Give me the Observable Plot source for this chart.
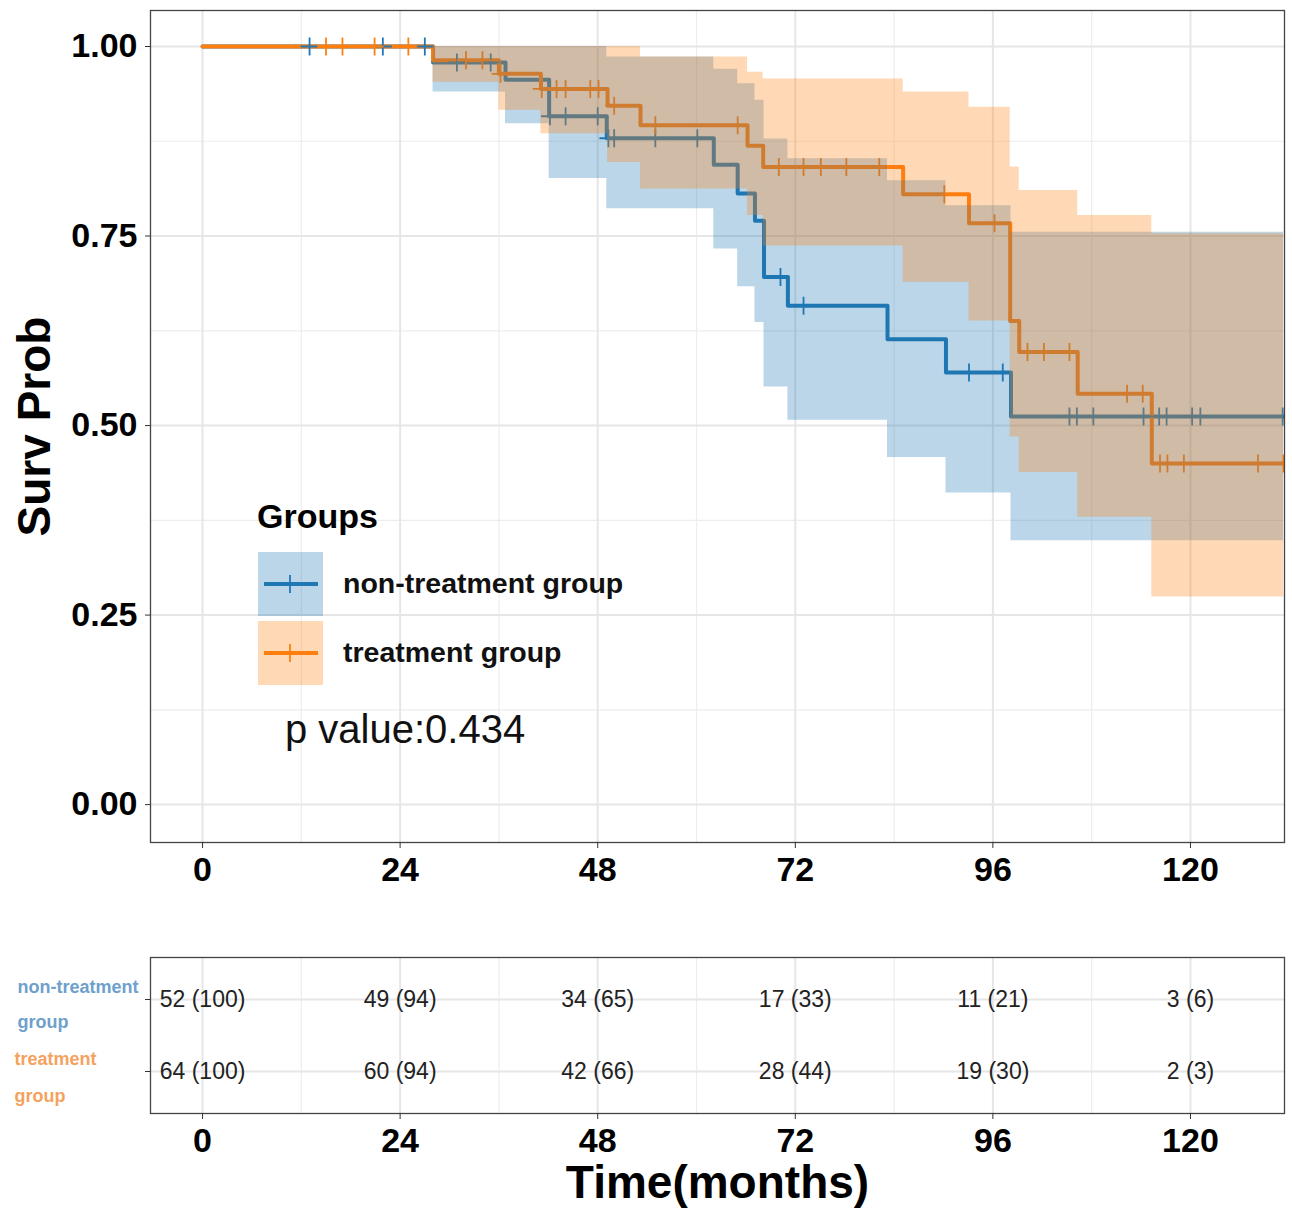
<!DOCTYPE html>
<html><head><meta charset="utf-8">
<script src="https://cdn.jsdelivr.net/npm/d3@7"></script>
<script src="https://cdn.jsdelivr.net/npm/@observablehq/plot@0.6"></script>
<style>
body{margin:0;background:#fff;font-family:"Liberation Sans",Arial,sans-serif;}
#wrap{position:relative;width:1292px;height:1210px;}
#wrap svg{display:block}
</style></head><body><div id="wrap"></div>
<script>
// ---------------- data ----------------
const groups = ["non-treatment group", "treatment group"];
const colors = ["#1F77B4", "#FF7F0E"];
const xTicks = [0, 24, 48, 72, 96, 120];
const xMinor = [12, 36, 60, 84, 108];
const yTicks = [0, 0.25, 0.5, 0.75, 1];
const yMinor = [0.125, 0.375, 0.625, 0.875];

const nonTime  = [0, 28, 36.8, 42.1, 49.1, 62.1, 65, 67.1, 68.2, 71.1, 83.2, 90.3, 98.2, 131.3];
const nonSurv  = [1, 0.979, 0.956, 0.908, 0.879, 0.844, 0.806, 0.770, 0.696, 0.658, 0.614, 0.570, 0.512, 0.512];
const nonUpper = [1, 1, 1, 1, 0.986, 0.970, 0.951, 0.929, 0.878, 0.852, 0.823, 0.790, 0.755, 0.755];
const nonLower = [1, 0.940, 0.898, 0.826, 0.786, 0.733, 0.683, 0.636, 0.551, 0.507, 0.458, 0.411, 0.348, 0.348];

const trtTime  = [0, 28, 36, 41.1, 49.2, 53.2, 66.2, 68.1, 85.1, 93.1, 98.1, 99.2, 106.3, 115.3, 131.3];
const trtSurv  = [1, 0.982, 0.964, 0.944, 0.922, 0.896, 0.869, 0.841, 0.805, 0.767, 0.638, 0.597, 0.542, 0.450, 0.450];
const trtUpper = [1, 1, 1, 1, 1, 0.986, 0.966, 0.957, 0.940, 0.920, 0.841, 0.810, 0.777, 0.753, 0.753];
const trtLower = [1, 0.953, 0.916, 0.885, 0.847, 0.812, 0.777, 0.737, 0.689, 0.638, 0.485, 0.438, 0.379, 0.274, 0.274];

const nonCensor = [13, 21.9, 27, 30.9, 35, 42.2, 44.1, 48.0, 49.3, 50, 55, 60.1, 70.2, 73, 93.1, 97.2,
                   105.3, 106.2, 108.2, 114.3, 116.2, 117.1, 120.2, 121.2, 131.2];
const trtCensor = [15, 17, 20.9, 25, 32, 34, 36.2, 41.2, 43, 44.1, 47.1, 48.1, 50, 55, 65, 70, 73, 75.1,
                   78.2, 82.2, 90.1, 96.2, 100.2, 102.2, 105.3, 112.3, 114.2, 116.3, 117.2, 119.2, 128.2, 131.3];

const riskTimes = [0, 24, 48, 72, 96, 120];
const nonRisk = ["52 (100)", "49 (94)", "34 (65)", "17 (33)", "11 (21)", "3 (6)"];
const trtRisk = ["64 (100)", "60 (94)", "42 (66)", "28 (44)", "19 (30)", "2 (3)"];
const pValueText = "p value:0.434";

// ---------------- derived tables ----------------
function curve(times, surv, lower, upper) {
  return times.map((t, i) => ({time: t, surv: surv[i], lower: lower[i], upper: upper[i]}));
}
function stepAt(times, surv, t) {
  let v = surv[0];
  for (let i = 0; i < times.length; i++) if (times[i] <= t) v = surv[i];
  return v;
}
const nonCurve = curve(nonTime, nonSurv, nonLower, nonUpper);
const trtCurve = curve(trtTime, trtSurv, trtLower, trtUpper);
const nonCens = nonCensor.map(t => ({time: t, surv: stepAt(nonTime, nonSurv, t)}));
const trtCens = trtCensor.map(t => ({time: t, surv: stepAt(trtTime, trtSurv, t)}));
const riskRows = [
  ...riskTimes.map((t, i) => ({time: t, group: groups[0], label: nonRisk[i]})),
  ...riskTimes.map((t, i) => ({time: t, group: groups[1], label: trtRisk[i]}))
];

const plusSym = {draw(ctx, size) {
  const r = Math.sqrt(size / Math.PI);
  ctx.moveTo(0, -r); ctx.lineTo(0, r); ctx.moveTo(-r, 0); ctx.lineTo(r, 0);
}};

const xDomain = [-6.32, 131.42];
const fontFam = "'Liberation Sans', Arial, sans-serif";
const gridMajor = {stroke: "#e6e6e6", strokeOpacity: 1, strokeWidth: 2};
const gridMinor = {stroke: "#ededed", strokeOpacity: 1, strokeWidth: 1.2};

// ---------------- survival plot ----------------
const survPlot = Plot.plot({
  width: 1292, height: 905,
  marginLeft: 150, marginRight: 8, marginTop: 10, marginBottom: 63,
  style: {fontFamily: fontFam, color: "#000", background: "transparent", overflow: "visible"},
  x: {domain: xDomain},
  y: {domain: [-0.05, 1.0475]},
  marks: [
    Plot.gridX(xMinor, gridMinor),
    Plot.gridY(yMinor, gridMinor),
    Plot.gridX(xTicks, gridMajor),
    Plot.gridY(yTicks, gridMajor),
    Plot.line(nonCurve, {x: "time", y: "surv", curve: "step-after", stroke: colors[0], strokeWidth: 4, clip: true}),
    Plot.line(trtCurve, {x: "time", y: "surv", curve: "step-after", stroke: colors[1], strokeWidth: 4, clip: true}),
    Plot.dot(nonCens, {x: "time", y: "surv", symbol: plusSym, r: 9, stroke: colors[0], fill: "none", strokeWidth: 1.8, clip: true}),
    Plot.dot(trtCens, {x: "time", y: "surv", symbol: plusSym, r: 9, stroke: colors[1], fill: "none", strokeWidth: 1.8, clip: true}),
    Plot.areaY(nonCurve, {x: "time", y1: "lower", y2: "upper", curve: "step-after", fill: colors[0], fillOpacity: 0.3}),
    Plot.areaY(trtCurve, {x: "time", y1: "lower", y2: "upper", curve: "step-after", fill: colors[1], fillOpacity: 0.3}),
    Plot.frame({stroke: "#444", strokeWidth: 1.3}),
    Plot.axisX(xTicks, {tickSize: 6, tickPadding: 8, fontSize: 34, fontWeight: "bold", label: null, stroke: "#333"}),
    Plot.axisY(yTicks, {tickSize: 5, tickPadding: 8, fontSize: 34, fontWeight: "bold", label: null, stroke: "#333",
                        tickFormat: d3.format(".2f")}),
    Plot.text(["Surv Prob"], {frameAnchor: "left", dx: -115, rotate: -90, textAnchor: "middle", lineAnchor: "middle",
                              fontSize: 46, fontWeight: "bold", fill: "#000"})
  ]
});

// ---------------- risk table ----------------
const riskPlot = Plot.plot({
  width: 1292, height: 305,
  marginLeft: 150, marginRight: 8, marginTop: 52, marginBottom: 97,
  style: {fontFamily: fontFam, color: "#000", background: "transparent", overflow: "visible"},
  x: {domain: xDomain},
  y: {type: "point", domain: groups, padding: 0.583},
  marks: [
    Plot.gridX(xMinor, gridMinor),
    Plot.gridX(xTicks, gridMajor),
    Plot.gridY(groups, gridMajor),
    Plot.text(riskRows, {x: "time", y: "group", text: "label", fontSize: 23, fill: "#222"}),
    Plot.frame({stroke: "#444", strokeWidth: 1.3}),
    Plot.axisY(groups, {tickSize: 5, tickFormat: () => "", label: null, stroke: "#333"}),
    Plot.text([groups[0]], {y: d => d, text: () => "non-treatment\ngroup", frameAnchor: "left", dx: -133, dy: 0,
                            textAnchor: "start", lineAnchor: "middle", lineHeight: 1.95, fontSize: 18, fontWeight: "bold", fill: "#6ea0cc"}),
    Plot.text([groups[1]], {y: d => d, text: () => "treatment\ngroup", frameAnchor: "left", dx: -136, dy: 0,
                            textAnchor: "start", lineAnchor: "middle", lineHeight: 2.05, fontSize: 18, fontWeight: "bold", fill: "#f5a25f"}),
    Plot.axisX(xTicks, {tickSize: 6, tickPadding: 8, fontSize: 34, fontWeight: "bold", label: null, stroke: "#333"}),
    Plot.text(["Time(months)"], {frameAnchor: "bottom", dy: 70, lineAnchor: "middle", fontSize: 46, fontWeight: "bold", fill: "#000"})
  ]
});

const wrap = document.getElementById("wrap");
wrap.appendChild(survPlot);
wrap.appendChild(riskPlot);

// ---------------- in-panel legend + p value ----------------
const leg = d3.create("svg").attr("width", 1292).attr("height", 905)
  .style("position", "absolute").style("left", "0px").style("top", "0px")
  .attr("font-family", fontFam);
leg.append("text").attr("x", 257).attr("y", 528).attr("font-size", 34).attr("font-weight", "bold").text("Groups");
const keyY = [552, 621];
groups.forEach((g, i) => {
  const y0 = keyY[i];
  leg.append("rect").attr("x", 258).attr("y", y0).attr("width", 65).attr("height", 64)
    .attr("fill", colors[i]).attr("fill-opacity", 0.3);
  leg.append("line").attr("x1", 264).attr("x2", 318).attr("y1", y0 + 32).attr("y2", y0 + 32)
    .attr("stroke", colors[i]).attr("stroke-width", 4);
  leg.append("line").attr("x1", 290).attr("x2", 290).attr("y1", y0 + 23).attr("y2", y0 + 41)
    .attr("stroke", colors[i]).attr("stroke-width", 1.8);
  leg.append("text").attr("x", 343).attr("y", y0 + 41).attr("font-size", 28.5).attr("font-weight", "bold")
    .attr("fill", "#111").text(g);
});
leg.append("text").attr("x", 285).attr("y", 743).attr("font-size", 40).attr("fill", "#111").text(pValueText);
wrap.appendChild(leg.node());
</script></body></html>
